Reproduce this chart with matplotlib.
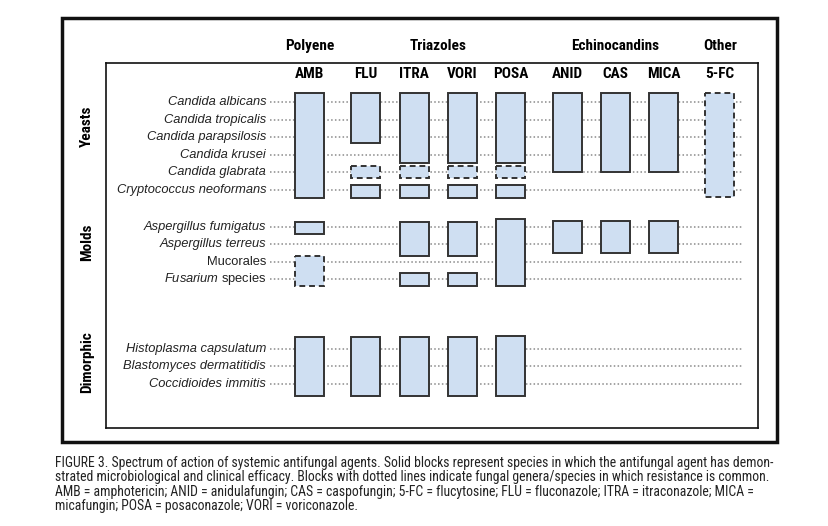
import matplotlib.pyplot as plt
from matplotlib.patches import Rectangle

plt.rcParams['mathtext.fontset'] = 'custom'
plt.rcParams['mathtext.it'] = 'Liberation Sans:italic'
plt.rcParams['mathtext.rm'] = 'Liberation Sans'

# ---- data ----
drug_groups = ['Polyene', 'Triazoles', 'Echinocandins', 'Other']
drugs = ['AMB', 'FLU', 'ITRA', 'VORI', 'POSA', 'ANID', 'CAS', 'MICA', '5-FC']
drug_group_idx = [0, 1, 1, 1, 1, 2, 2, 2, 3]

species_groups = ['Yeasts', 'Molds', 'Dimorphic']
yeasts = ['Candida albicans', 'Candida tropicalis', 'Candida parapsilosis',
          'Candida krusei', 'Candida glabrata', 'Cryptococcus neoformans']
molds = ['Aspergillus fumigatus', 'Aspergillus terreus', 'Mucorales',
         r'$\mathit{Fusarium}$ species']
dimorphic = ['Histoplasma capsulatum', 'Blastomyces dermatitidis',
             'Coccidioides immitis']
species = [yeasts, molds, dimorphic]
italic = [[True] * 6, [True, True, False, False], [True] * 3]

# blocks: (drug, species group, top, bottom, resistance common)
# top/bottom in row index units within the group
yeast_blocks = [
    ('AMB', 0, -0.5, 5.5, False),
    ('FLU', 0, -0.5, 2.35, False), ('FLU', 0, 3.65, 4.35, True), ('FLU', 0, 4.75, 5.5, False),
    ('ITRA', 0, -0.5, 3.5, False), ('ITRA', 0, 3.65, 4.35, True), ('ITRA', 0, 4.75, 5.5, False),
    ('VORI', 0, -0.5, 3.5, False), ('VORI', 0, 3.65, 4.35, True), ('VORI', 0, 4.75, 5.5, False),
    ('POSA', 0, -0.5, 3.5, False), ('POSA', 0, 3.65, 4.35, True), ('POSA', 0, 4.75, 5.5, False),
    ('ANID', 0, -0.5, 4.0, False), ('CAS', 0, -0.5, 4.0, False), ('MICA', 0, -0.5, 4.0, False),
    ('5-FC', 0, -0.5, 5.45, True),
]
mold_blocks = [
    ('AMB', 1, -0.29, 0.41, False), ('AMB', 1, 1.66, 3.37, True),
    ('ITRA', 1, -0.28, 1.66, False), ('ITRA', 1, 2.63, 3.37, False),
    ('VORI', 1, -0.28, 1.66, False), ('VORI', 1, 2.63, 3.37, False),
    ('POSA', 1, -0.45, 3.37, False),
    ('ANID', 1, -0.34, 1.49, False), ('CAS', 1, -0.34, 1.49, False), ('MICA', 1, -0.34, 1.49, False),
]
dimorphic_blocks = [
    ('AMB', 2, -0.68, 2.69, False), ('FLU', 2, -0.68, 2.69, False),
    ('ITRA', 2, -0.68, 2.69, False), ('VORI', 2, -0.68, 2.69, False),
    ('POSA', 2, -0.74, 2.69, False),
]

caption = [
    "FIGURE 3. Spectrum of action of systemic antifungal agents. Solid blocks represent species in which the antifungal agent has demon-",
    "strated microbiological and clinical efficacy. Blocks with dotted lines indicate fungal genera/species in which resistance is common.",
    "AMB = amphotericin; ANID = anidulafungin; CAS = caspofungin; 5-FC = flucytosine; FLU = fluconazole; ITRA = itraconazole; MICA =",
    "micafungin; POSA = posaconazole; VORI = voriconazole.",
]

# ---- layout ----
col_gap = 0.17
col_x = [i + col_gap * g for i, g in enumerate(drug_group_idx)]
group_offset = [0, 7.14, 14.11]
group_label_y = [1.37, 8.0, 14.86]
block_w = 0.6
fill = '#cfdff2'
edge = '#333333'
head_font = ['Liberation Sans Narrow', 'DejaVu Sans Condensed', 'Roboto Condensed', 'Liberation Sans']

fig = plt.figure(figsize=(8.29, 5.26), dpi=100)
fig.patches.append(Rectangle((0.0748, 0.1597), 0.8625, 0.806, transform=fig.transFigure,
                             fill=False, lw=2.5, ec='#111111'))

ax = fig.add_axes([0.1279, 0.1863, 0.7865, 0.6939])
ax.set_xlim(-4.22, 9.30)
ax.set_ylim(18.63, -2.23)
ax.set_xticks([])
ax.set_yticks([])
for s in ax.spines.values():
    s.set_linewidth(1.2)
    s.set_color('#111111')

# species rows: labels and dotted guide lines
for g, names in enumerate(species):
    for k, name in enumerate(names):
        y = group_offset[g] + k
        ax.plot([-0.82, 8.99], [y, y], ls=(0, (1, 1.5)), lw=1.1, color='#8a8a8a', zorder=1)
        ax.text(-0.9, y, name, ha='right', va='center', fontsize=9.3,
                family='Liberation Sans', style='italic' if italic[g][k] else 'normal',
                color='#222222')
    ax.text(-4.62, group_label_y[g], species_groups[g], rotation=90, ha='center', va='center',
            fontsize=11, fontweight='bold', family=head_font, clip_on=False)

# drug headers
for i, d in enumerate(drugs):
    ax.text(col_x[i], -1.6, d, ha='center', va='center', fontsize=11,
            fontweight='bold', family=head_font)
for g, name in enumerate(drug_groups):
    xs = [col_x[i] for i in range(len(drugs)) if drug_group_idx[i] == g]
    ax.text(sum(xs) / len(xs), -3.2, name, ha='center', va='center', fontsize=11,
            fontweight='bold', family=head_font, clip_on=False)

# blocks
for drug, g, top, bottom, dashed in yeast_blocks + mold_blocks + dimorphic_blocks:
    x = col_x[drugs.index(drug)]
    y0 = group_offset[g] + top
    ax.add_patch(Rectangle((x - block_w / 2, y0), block_w, bottom - top,
                           fc=fill, ec=edge, lw=1.4,
                           ls=(0, (3, 2)) if dashed else '-', zorder=3))

# caption
for k, line in enumerate(caption):
    fig.text(0.066, 1 - (463 + 14.3 * k) / 526, line, ha='left', va='center',
             fontsize=9.9, family=head_font, color='#222222')

fig.savefig('out.png', dpi=100)
